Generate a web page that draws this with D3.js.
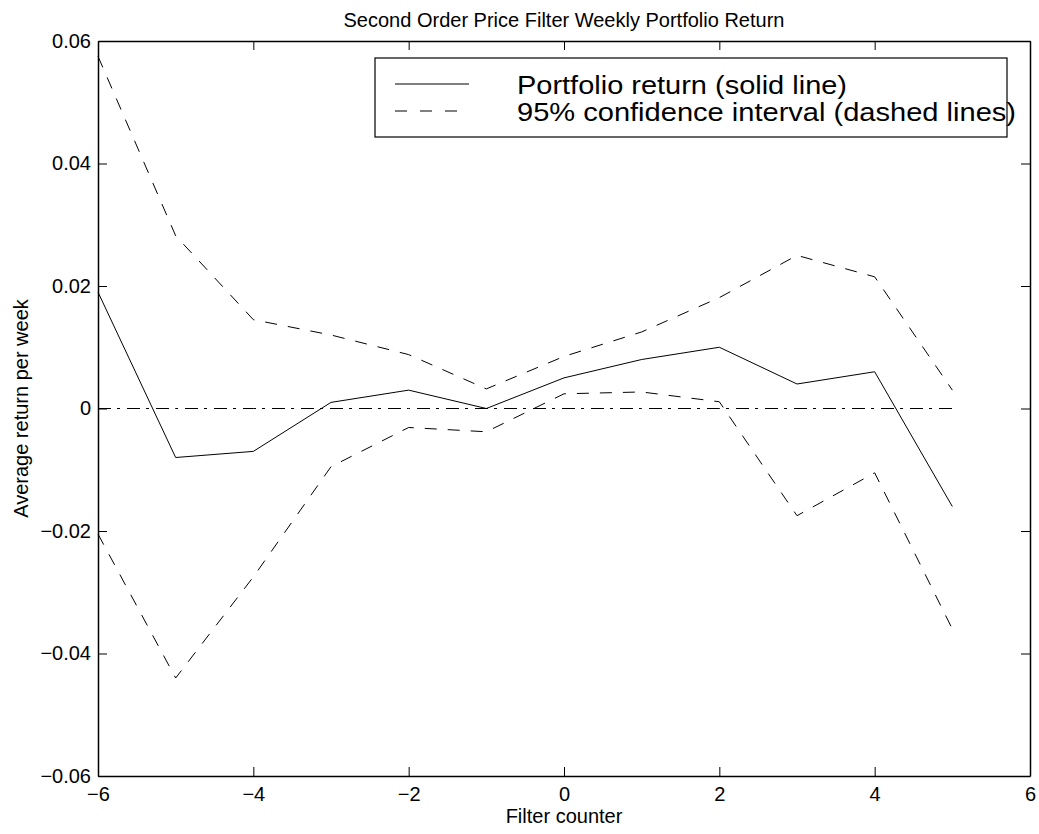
<!DOCTYPE html>
<html>
<head>
<meta charset="utf-8">
<script src="https://cdn.jsdelivr.net/npm/d3@7"></script>
<style>
  body { margin: 0; background: #fff; }
  text { font-family: "Liberation Sans", Arial, sans-serif; fill: #000; }
</style>
</head>
<body>
<div id="chart"></div>
<script>
// Data
const filterCounter = [-6, -5, -4, -3, -2, -1, 0, 1, 2, 3, 4, 5]
const portfolioReturn = [0.019, -0.008, -0.007, 0.001, 0.003, 0.0, 0.005, 0.008, 0.010, 0.004, 0.006, -0.016]
const upperCI = [0.0575, 0.0282, 0.0145, 0.0120, 0.0088, 0.0032, 0.0085, 0.0125, 0.0181, 0.0250, 0.0215, 0.0030]
const lowerCI = [-0.0205, -0.0440, -0.0275, -0.0095, -0.0031, -0.0038, 0.0024, 0.0027, 0.0011, -0.0175, -0.0105, -0.0360]
const xTicks = [-6, -4, -2, 0, 2, 4, 6]
const yTicks = [-0.06, -0.04, -0.02, 0, 0.02, 0.04, 0.06]
const legendLabels = ['Portfolio return (solid line)', '95% confidence interval (dashed lines)']

// Layout
const width = 1039
const height = 834
const margin = { top: 41, right: 9, bottom: 58, left: 98 }
const tickLen = 9
const fontSize = 20

const svg = d3.select('#chart')
  .append('svg')
    .attr('width', width)
    .attr('height', height)

const x = d3.scaleLinear().domain([-6, 6]).range([margin.left, width - margin.right])
const y = d3.scaleLinear().domain([-0.06, 0.06]).range([height - margin.bottom, margin.top])

const fmtY = d => d === 0 ? '0' : d3.format('.2f')(d).replace('-', '\u2212')
const fmtX = d => String(d).replace('-', '\u2212')

// Axes (ticks inward on all four sides)
svg.append('g')
  .attr('transform', `translate(0,${y(-0.06)})`)
  .call(d3.axisBottom(x).tickValues(xTicks).tickSizeInner(-tickLen).tickSizeOuter(0).tickPadding(11).tickFormat(fmtX))

svg.append('g')
  .attr('transform', `translate(0,${y(0.06)})`)
  .call(d3.axisTop(x).tickValues(xTicks).tickSizeInner(-tickLen).tickSizeOuter(0).tickFormat(''))

svg.append('g')
  .attr('transform', `translate(${x(-6)},0)`)
  .call(d3.axisLeft(y).tickValues(yTicks).tickSizeInner(-tickLen).tickSizeOuter(0).tickPadding(7).tickFormat(fmtY))

svg.append('g')
  .attr('transform', `translate(${x(6)},0)`)
  .call(d3.axisRight(y).tickValues(yTicks).tickSizeInner(-tickLen).tickSizeOuter(0).tickFormat(''))

svg.selectAll('.domain').attr('stroke', '#000').attr('stroke-width', 1.5)
svg.selectAll('.tick line').attr('stroke', '#000')
svg.selectAll('.tick text')
  .attr('fill', '#000')
  .attr('font-size', fontSize)
  .attr('font-family', '"Liberation Sans", Arial, sans-serif')

// Lines
const line = d3.line().x((d, i) => x(filterCounter[i])).y(d => y(d))

svg.append('path')
  .datum(filterCounter.map(() => 0))
  .attr('d', line)
  .attr('fill', 'none')
  .attr('stroke', '#000')
  .attr('stroke-width', 1)
  .attr('stroke-dasharray', '13,6,3,7')

svg.append('path')
  .datum(portfolioReturn)
  .attr('d', line)
  .attr('fill', 'none')
  .attr('stroke', '#000')
  .attr('stroke-width', 1)

;[upperCI, lowerCI].forEach(series => {
  svg.append('path')
    .datum(series)
    .attr('d', line)
    .attr('fill', 'none')
    .attr('stroke', '#000')
    .attr('stroke-width', 1)
    .attr('stroke-dasharray', '12,11')
})

// Legend
const legend = svg.append('g').attr('transform', 'translate(375,58)')
legend.append('rect')
  .attr('width', 632)
  .attr('height', 79)
  .attr('fill', '#fff')
  .attr('stroke', '#000')
  .attr('stroke-width', 1.2)

legendLabels.forEach((label, i) => {
  const ly = 26 + i * 27
  legend.append('line')
    .attr('x1', 20).attr('x2', i === 0 ? 94 : 82)
    .attr('y1', ly).attr('y2', ly)
    .attr('stroke', '#000')
    .attr('stroke-dasharray', i === 0 ? null : '12,13')
  legend.append('text')
    .attr('x', 142)
    .attr('y', ly + 10)
    .attr('font-size', 25)
    .attr('textLength', i === 0 ? 330 : 499)
    .attr('lengthAdjust', 'spacingAndGlyphs')
    .text(label)
})

// Titles
svg.append('text')
  .attr('x', x(0))
  .attr('y', 27)
  .attr('text-anchor', 'middle')
  .attr('font-size', fontSize)
  .text('Second Order Price Filter Weekly Portfolio Return')

svg.append('text')
  .attr('x', x(0))
  .attr('y', 823)
  .attr('text-anchor', 'middle')
  .attr('font-size', fontSize)
  .text('Filter counter')

svg.append('text')
  .attr('transform', `translate(28,${y(0)}) rotate(-90)`)
  .attr('text-anchor', 'middle')
  .attr('font-size', fontSize)
  .text('Average return per week')
</script>
</body>
</html>
